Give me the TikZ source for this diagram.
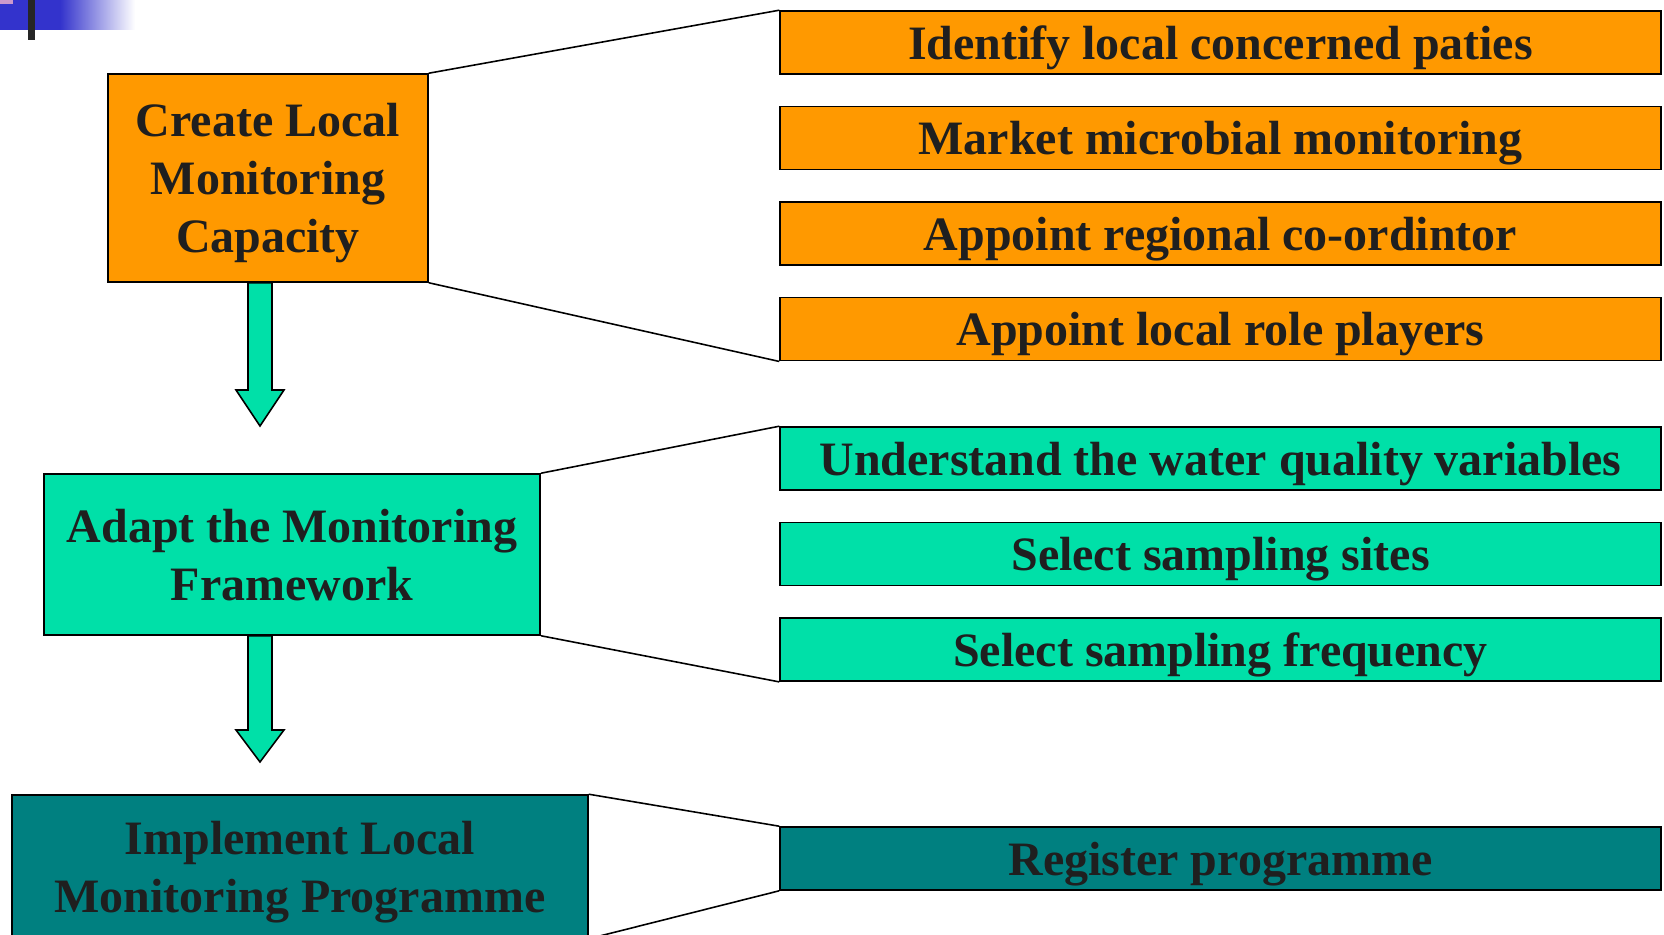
\documentclass[tikz,border=0pt]{standalone}
\usepackage{fontspec}
\setmainfont{Liberation Serif}
\usetikzlibrary{positioning}

\definecolor{orangebox}{HTML}{FF9900}
\definecolor{greenbox}{HTML}{00E0A8}
\definecolor{tealbox}{HTML}{008080}
\definecolor{barblue}{HTML}{3333CC}
\definecolor{barpink}{HTML}{CC99CC}

\tikzset{
  stepitem/.style={draw=black, line width=0.9pt, minimum width=17.62cm, minimum height=1.26cm,
    inner sep=0pt, text depth=0pt, font=\fontsize{27.3}{33}\selectfont\bfseries, text=black!88},
  stagebox/.style={draw=black, line width=0.9pt, inner sep=0pt, text depth=0pt, align=center,
    font=\fontsize{27.3}{33}\selectfont\bfseries, text=black!88},
  flowarrow/.style={draw=black, line width=0.9pt, fill=greenbox},
  link/.style={draw=black, line width=0.9pt}
}

\begin{document}
\begin{tikzpicture}[x=0.02cm, y=-0.02cm]
    \useasboundingbox (0,0) rectangle (1664,935);
    \clip (0,0) rectangle (1664,935);

    % Title bar corner
    \fill[barblue] (0,0) rectangle (60,30);
    \shade[left color=barblue, right color=white] (60,0) rectangle (135,30);
    \fill[barpink] (0,0) rectangle (13,4);
    \fill[black!85] (28,0) rectangle (35,40);

    % Stages
    \node[stagebox, fill=orangebox, minimum width=6.4cm, minimum height=4.16cm] (create) at (268,178)
        {Create Local\\Monitoring\\Capacity};
    \node[stagebox, fill=greenbox, minimum width=9.93cm, minimum height=3.22cm] (adapt) at (292,554.5)
        {Adapt the Monitoring\\Framework};
    \node[stagebox, fill=tealbox, minimum width=11.52cm, minimum height=2.86cm] (implement) at (300,866.5)
        {Implement Local\\Monitoring Programme};

    % Tasks of each stage
    \node[stepitem, fill=orangebox] (identify) at (1220.5,42.5) {Identify local concerned paties};
    \node[stepitem, fill=orangebox, below=0.62cm of identify] (market) {Market microbial monitoring};
    \node[stepitem, fill=orangebox, below=0.62cm of market] (coordinator) {Appoint regional co-ordintor};
    \node[stepitem, fill=orangebox, below=0.62cm of coordinator] (players) {Appoint local role players};

    \node[stepitem, fill=greenbox] (variables) at (1220.5,458.5) {Understand the water quality variables};
    \node[stepitem, fill=greenbox, below=0.62cm of variables] (sites) {Select sampling sites};
    \node[stepitem, fill=greenbox, below=0.62cm of sites] (frequency) {Select sampling frequency};

    \node[stepitem, fill=tealbox] (register) at (1220.5,858.5) {Register programme};

    % Brackets
    \draw[link] (create.north east) -- (identify.north west);
    \draw[link] (create.south east) -- (players.south west);
    \draw[link] (adapt.north east) -- (variables.north west);
    \draw[link] (adapt.south east) -- (frequency.south west);
    \draw[link] (implement.north east) -- (register.north west);
    \draw[link] (implement.south east) -- (register.south west);

    % Flow arrows
    \draw[flowarrow] (248,0 |- create.south) -- (272,0 |- create.south) -- (272,390) -- (284,390)
        -- (260,426) -- (236,390) -- (248,390) -- cycle;
    \draw[flowarrow] (248,0 |- adapt.south) -- (272,0 |- adapt.south) -- (272,730) -- (284,730)
        -- (260,762) -- (236,730) -- (248,730) -- cycle;
\end{tikzpicture}
\end{document}
